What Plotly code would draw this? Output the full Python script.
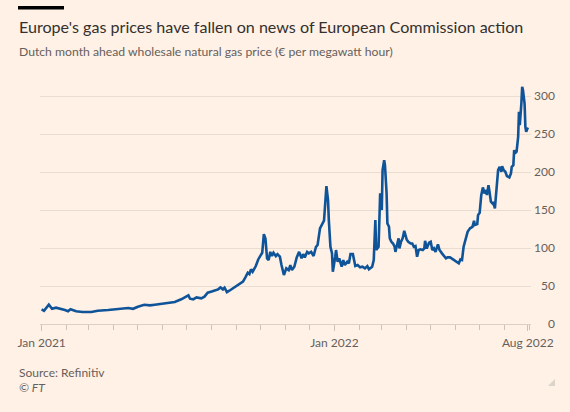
import plotly.graph_objects as go

dates = [
    "2021-01-01", "2021-01-04", "2021-01-10", "2021-01-14", "2021-01-19", "2021-01-25", "2021-01-30",
    "2021-02-03", "2021-02-06", "2021-02-13", "2021-02-21", "2021-03-04", "2021-03-12", "2021-03-25",
    "2021-04-06", "2021-04-19", "2021-04-25", "2021-05-01", "2021-05-09", "2021-05-16", "2021-05-22",
    "2021-05-30", "2021-06-07", "2021-06-16", "2021-06-24", "2021-07-01", "2021-07-03", "2021-07-05",
    "2021-07-09", "2021-07-13", "2021-07-19", "2021-07-23", "2021-07-27", "2021-08-02", "2021-08-09",
    "2021-08-12", "2021-08-15", "2021-08-17", "2021-08-20", "2021-08-23", "2021-08-30", "2021-09-05",
    "2021-09-09", "2021-09-12", "2021-09-15", "2021-09-17", "2021-09-19", "2021-09-21", "2021-09-25",
    "2021-09-28", "2021-10-01", "2021-10-03", "2021-10-05", "2021-10-07", "2021-10-09", "2021-10-11",
    "2021-10-13", "2021-10-15", "2021-10-17", "2021-10-20", "2021-10-22", "2021-10-25", "2021-10-27",
    "2021-10-30", "2021-11-02", "2021-11-05", "2021-11-07", "2021-11-09", "2021-11-12", "2021-11-15",
    "2021-11-18", "2021-11-21", "2021-11-23", "2021-11-25", "2021-11-28", "2021-11-30", "2021-12-03",
    "2021-12-06", "2021-12-09", "2021-12-11", "2021-12-14", "2021-12-17", "2021-12-19", "2021-12-22",
    "2021-12-24", "2021-12-25", "2021-12-27", "2021-12-29", "2021-12-30", "2022-01-02", "2022-01-03",
    "2022-01-05", "2022-01-07", "2022-01-10", "2022-01-12", "2022-01-14", "2022-01-17", "2022-01-19",
    "2022-01-21", "2022-01-24", "2022-01-27", "2022-01-30", "2022-02-02", "2022-02-05", "2022-02-08",
    "2022-02-11", "2022-02-13", "2022-02-17", "2022-02-19", "2022-02-21", "2022-02-22", "2022-02-25",
    "2022-02-27", "2022-03-01", "2022-03-02", "2022-03-04", "2022-03-05", "2022-03-07", "2022-03-08",
    "2022-03-10", "2022-03-11", "2022-03-13", "2022-03-15", "2022-03-17", "2022-03-18", "2022-03-20",
    "2022-03-22", "2022-03-23", "2022-03-25", "2022-03-27", "2022-03-29", "2022-04-01", "2022-04-03",
    "2022-04-06", "2022-04-08", "2022-04-10", "2022-04-12", "2022-04-14", "2022-04-16", "2022-04-18",
    "2022-04-21", "2022-04-23", "2022-04-24", "2022-04-26", "2022-04-29", "2022-05-01", "2022-05-03",
    "2022-05-05", "2022-05-07", "2022-05-10", "2022-05-12", "2022-05-15", "2022-05-17", "2022-05-20",
    "2022-05-22", "2022-05-25", "2022-05-27", "2022-05-30", "2022-06-01", "2022-06-03", "2022-06-05",
    "2022-06-07", "2022-06-09", "2022-06-11", "2022-06-14", "2022-06-16", "2022-06-18", "2022-06-19",
    "2022-06-22", "2022-06-24", "2022-06-25", "2022-06-28", "2022-06-29", "2022-07-01", "2022-07-03",
    "2022-07-04", "2022-07-05", "2022-07-07", "2022-07-09", "2022-07-10", "2022-07-12", "2022-07-13",
    "2022-07-15", "2022-07-17", "2022-07-18", "2022-07-20", "2022-07-22", "2022-07-24", "2022-07-26",
    "2022-07-28", "2022-07-29", "2022-07-31", "2022-08-02", "2022-08-04", "2022-08-07", "2022-08-09",
    "2022-08-10", "2022-08-12", "2022-08-13", "2022-08-14", "2022-08-16", "2022-08-18", "2022-08-19",
    "2022-08-20", "2022-08-22", "2022-08-23", "2022-08-24", "2022-08-26", "2022-08-27", "2022-08-28",
    "2022-08-30",
]

prices = [
    19.3, 17.5, 25.4, 20.0, 21.5, 20.0, 18.4,
    16.7, 19.3, 16.7, 15.8, 15.8, 17.5, 18.4,
    19.3, 21.0, 20.0, 22.8, 25.4, 24.6, 25.4,
    26.3, 28.0, 29.0, 32.5, 36.0, 37.7, 33.3,
    32.5, 35.0, 33.8, 36.0, 41.2, 43.0, 45.6,
    48.2, 45.6, 47.8, 42.0, 43.8, 49.0, 52.6,
    55.7, 61.4, 67.5, 65.8, 72.0, 68.8, 76.3,
    85.0, 90.4, 93.8, 118.4, 112.7, 86.4, 84.2,
    95.0, 89.5, 93.8, 89.5, 92.0, 88.6, 77.6,
    64.5, 73.3, 71.0, 77.6, 71.0, 75.4, 87.7,
    95.0, 86.4, 92.0, 87.7, 95.0, 93.0, 95.0,
    89.5, 101.7, 104.0, 126.0, 132.5, 136.0, 181.6,
    163.0, 137.0, 101.7, 93.0, 68.8, 88.6, 97.4,
    82.0, 86.4, 75.4, 84.2, 77.6, 82.0, 80.0,
    92.0, 92.0, 76.3, 77.6, 74.6, 75.4, 73.3,
    76.3, 72.0, 75.4, 84.2, 136.8, 97.4, 101.7,
    172.0, 150.0, 202.6, 215.8, 209.0, 172.0, 132.5,
    128.0, 112.7, 108.3, 106.0, 101.7, 95.0, 104.0,
    112.7, 99.6, 108.3, 112.7, 122.8, 111.4, 108.3,
    106.0, 106.0, 101.7, 102.6, 88.6, 97.4, 98.3,
    97.4, 99.6, 109.6, 99.6, 107.0, 108.3, 97.4,
    99.6, 95.0, 104.8, 97.4, 93.0, 90.8, 86.4,
    87.7, 87.7, 86.4, 84.2, 83.3, 81.6, 80.0,
    85.0, 84.2, 101.7, 116.0, 121.4, 124.6, 126.0,
    128.0, 136.0, 130.3, 131.6, 143.4, 146.5, 169.7,
    174.0, 179.8, 172.0, 176.3, 169.7, 182.9, 176.3,
    161.0, 158.8, 161.0, 152.2, 174.0, 202.6, 207.0,
    200.4, 207.9, 202.6, 200.4, 194.7, 193.0, 198.3,
    207.0, 209.2, 229.0, 224.6, 226.8, 246.5, 279.4,
    261.8, 290.4, 312.3, 308.0, 290.4, 259.6, 253.0,
    258.8,
]

x_tick_vals = ["2021-01-01", "2022-01-01", "2022-08-30"]
x_tick_text = ["Jan 2021", "Jan 2022", "Aug 2022"]
y_tick_vals = [0, 50, 100, 150, 200, 250, 300]
y_tick_text = ["0", "50", "100", "150", "200", "250", "300"]
y_max = 320

title_text = "Europe's gas prices have fallen on news of European Commission action"
subtitle_text = "Dutch month ahead wholesale natural gas price (€ per megawatt hour)"
source_text = "Source: Refinitiv"
credit_text = "<i>© FT</i>"

# ---- layout geometry (pixels) ----
W_FIG, H_FIG = 570, 412
M_L, M_R, M_T, M_B = 40, 9, 81, 88
PW = W_FIG - M_L - M_R
PH = H_FIG - M_T - M_B
X_DOMAIN_RIGHT = 491 / PW


def px_x(px):
    return (px - M_L) / PW


def px_y(py):
    return (H_FIG - M_B - py) / PH


BG = "#FFF1E5"
LINE = "#0F5499"
GRID = "#E9DDD2"
TICK = "#CEC3B8"
TEXT_DARK = "#33302E"
TEXT_MID = "#66605C"
FONT = "Lato"

fig = go.Figure()
fig.add_trace(go.Scatter(
    x=dates, y=prices, mode="lines",
    line=dict(color=LINE, width=2.6),
    hoverinfo="skip", showlegend=False,
))
fig.add_trace(go.Scatter(
    x=dates, y=prices, mode="lines", yaxis="y2",
    line=dict(color="rgba(0,0,0,0)", width=0),
    hoverinfo="skip", showlegend=False,
))

fig.update_layout(
    width=W_FIG, height=H_FIG,
    margin=dict(l=M_L, r=M_R, t=M_T, b=M_B, pad=0, autoexpand=False),
    paper_bgcolor=BG, plot_bgcolor=BG,
    font=dict(family=FONT, color=TEXT_MID, size=12),
    xaxis=dict(
        type="date", domain=[0, X_DOMAIN_RIGHT], automargin=False,
        range=["2020-12-30", "2022-09-03"],
        tickmode="array", tickvals=x_tick_vals, ticktext=x_tick_text,
        ticks="outside", ticklen=6, tickcolor=TICK, tickwidth=1,
        ticklabelstandoff=2,
        showgrid=False, zeroline=False, showline=False,
        tickfont=dict(size=12, color=TEXT_MID, family=FONT),
        minor=dict(ticks="outside", ticklen=5, tickcolor=TICK, dtick="M1",
                   tick0="2021-01-01", showgrid=False),
        fixedrange=True,
    ),
    yaxis=dict(
        range=[0, y_max], tickmode="array", tickvals=y_tick_vals, automargin=False,
        showticklabels=False, showgrid=True, gridcolor=GRID, gridwidth=1,
        zeroline=True, zerolinecolor="#DDCFC2", zerolinewidth=1,
        ticks="", fixedrange=True,
    ),
    yaxis2=dict(
        overlaying="y", side="right", anchor="free", position=1.0, automargin=False,
        range=[0, y_max], tickmode="array", tickvals=y_tick_vals, ticktext=y_tick_text,
        ticklabelposition="inside", ticklabeloverflow="allow", ticklabelstandoff=3,
        ticks="", showgrid=False, zeroline=False,
        showline=False, tickfont=dict(size=12, color=TEXT_MID, family=FONT),
        fixedrange=True,
    ),
)

# FT black bar above title
fig.add_shape(type="rect", xref="paper", yref="paper",
              x0=px_x(18), x1=px_x(64), y0=px_y(9.5), y1=px_y(6),
              fillcolor="#000000", line=dict(width=0))

fig.add_annotation(xref="paper", yref="paper", x=px_x(17), y=px_y(26.5),
                   xanchor="left", yanchor="middle", showarrow=False,
                   text=title_text, font=dict(size=16.1, color=TEXT_DARK, family=FONT))
fig.add_annotation(xref="paper", yref="paper", x=px_x(17), y=px_y(51.5),
                   xanchor="left", yanchor="middle", showarrow=False,
                   text=subtitle_text, font=dict(size=12.2, color=TEXT_MID, family=FONT))
fig.add_annotation(xref="paper", yref="paper", x=px_x(17), y=px_y(372.5),
                   xanchor="left", yanchor="middle", showarrow=False,
                   text=source_text, font=dict(size=12, color=TEXT_MID, family=FONT))
fig.add_annotation(xref="paper", yref="paper", x=px_x(17), y=px_y(387),
                   xanchor="left", yanchor="middle", showarrow=False,
                   text=credit_text, font=dict(size=12, color=TEXT_MID, family=FONT))

# small resize-corner triangle
tx0, tx1, ty0, ty1 = px_x(548), px_x(555), px_y(386), px_y(379)
fig.add_shape(type="path", xref="paper", yref="paper",
              path=f"M {tx1} {ty0} L {tx1} {ty1} L {tx0} {ty0} Z",
              fillcolor="#DCD3CB", line=dict(width=0))

fig.write_html(
    "out.html",
    config={"displayModeBar": False},
    post_script="document.body.style.margin='0';document.body.style.background='#FFF1E5';",
)
